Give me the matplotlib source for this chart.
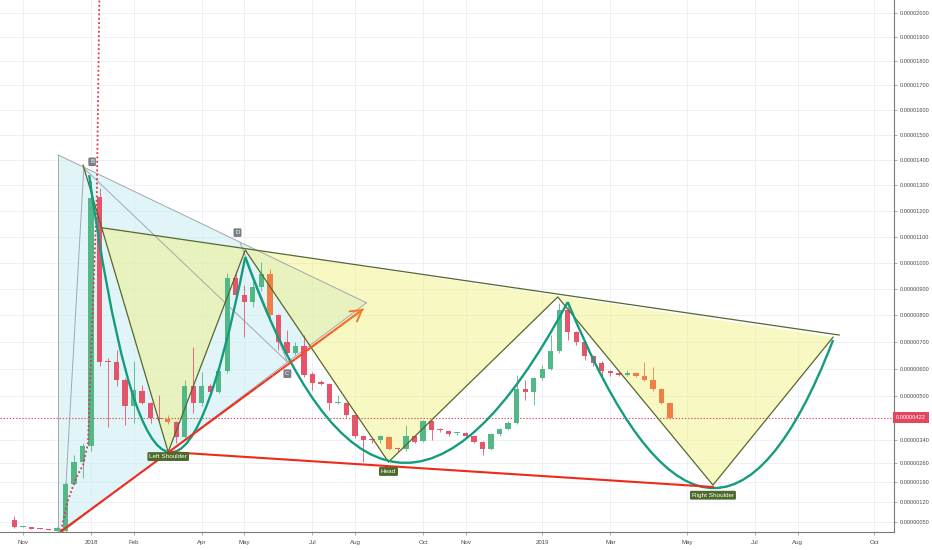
import numpy as np
import pandas as pd
import matplotlib
matplotlib.use('Agg')
import matplotlib.pyplot as plt
import matplotlib.dates as mdates
from matplotlib.path import Path
from matplotlib.patches import PathPatch
from matplotlib.collections import LineCollection
from matplotlib.colors import to_rgb
from matplotlib.ticker import NullLocator

plt.rcParams['font.family'] = ['Liberation Sans', 'DejaVu Sans']

# weekly candles, prices in satoshi (1 = 0.00000001)
first_week = '2017-10-30'
opens = [57, 33, 31, 27, 26, 18, 18, 184, 262, 319, 1254, 628, 626, 559, 464, 519, 475, 418, 416, 405,
         352, 538, 475, 538, 516, 592, 942, 877, 850, 907, 957, 801, 700, 659, 685, 581, 551, 544, 474, 475,
         431, 355, 345, 341, 352, 312, 309, 355, 337, 409, 380, 373, 365, 366, 355, 334, 309, 362, 380, 402,
         527, 516, 567, 600, 667, 820, 738, 700, 648, 622, 593, 585, 578, 585, 574, 559, 527, 475]
highs = [72, 36, 33, 28, 27, 31, 190, 287, 330, 1317, 1290, 640, 670, 565, 630, 541, 480, 505, 431, 410,
         560, 682, 589, 545, 600, 960, 960, 915, 925, 1002, 975, 805, 745, 700, 726, 590, 560, 548, 505, 480,
         435, 360, 350, 360, 356, 315, 395, 360, 415, 413, 385, 378, 370, 370, 358, 338, 365, 384, 410, 578,
         559, 570, 615, 726, 846, 830, 742, 705, 652, 628, 596, 588, 596, 590, 626, 607, 530, 478]
lows = [29, 32, 25, 24, 21, 17, 16, 180, 205, 300, 610, 388, 537, 395, 402, 470, 402, 410, 400, 330,
        345, 440, 465, 505, 510, 585, 860, 718, 830, 890, 790, 670, 650, 650, 570, 523, 540, 450, 470, 425,
        350, 262, 330, 330, 305, 300, 300, 330, 334, 341, 370, 355, 360, 350, 330, 287, 305, 355, 376, 398,
        486, 468, 560, 595, 660, 707, 690, 633, 610, 559, 575, 574, 575, 570, 555, 520, 470, 418]
closes = [31, 35, 26, 25, 22, 29, 184, 262, 319, 1250, 626, 624, 559, 464, 523, 475, 420, 416, 405, 352,
          537, 475, 538, 516, 592, 942, 877, 850, 907, 957, 801, 700, 659, 685, 578, 548, 544, 475, 477, 431,
          355, 341, 341, 355, 309, 308, 355, 334, 409, 377, 377, 362, 367, 355, 334, 309, 362, 380, 402, 527,
          516, 567, 600, 667, 820, 738, 700, 648, 622, 593, 585, 578, 585, 574, 559, 527, 475, 422]
orange_idx = [18, 30, 44, 73, 74, 75, 76, 77]
last_price = 422

y_ticks = [2000, 1900, 1800, 1700, 1600, 1500, 1400, 1300, 1200, 1100, 1000, 900, 800, 700, 600, 500,
           340, 260, 190, 120, 50]
x_tick_dates = ['2017-11-06', '2018-01-01', '2018-02-05', '2018-04-02', '2018-05-07', '2018-07-02',
                '2018-08-06', '2018-10-01', '2018-11-05', '2019-01-07', '2019-03-04', '2019-05-06',
                '2019-07-01', '2019-08-05', '2019-10-07']
x_tick_labels = ['Nov', '2018', 'Feb', 'Apr', 'May', 'Jul', 'Aug', 'Oct', 'Nov', '2019', 'Mar', 'May',
                 'Jul', 'Aug', 'Oct']

# triangle pattern drawing
tri_fill_dates = ['2017-12-05', '2018-08-15 12:00', '2017-12-05']
tri_fill_vals = [1420, 847, 5]
tri_zz_dates = ['2017-12-09', '2017-12-26', '2018-06-11 10:00', '2018-05-03 17:00']
tri_zz_vals = [5, 1368, 626, 1075]
tri_labels = ['', 'B', 'C', 'D']
tri_label_off = [(0, 0), (6, 4.5), (0, -8.5), (-2, 7.5)]

# head & shoulders drawing
hs_dates = ['2017-12-25 10:00', '2018-03-05 10:00', '2018-05-07 19:00', '2018-09-02 14:00',
            '2019-01-19 19:00', '2019-05-27 10:00', '2019-09-03 05:00']
hs_vals = [1380, 298, 1048, 262, 869, 180, 718]
neck_dates = ['2018-01-10 02:00', '2019-09-08 05:00']
neck_vals = [1134, 726]
hs_names = {1: 'Left Shoulder', 3: 'Head', 5: 'Right Shoulder'}
hs_name_off = {1: -1.5, 3: -5.0, 5: -5.5}

# curves: start, control, end
arc_dates = [['2017-12-30 10:00', '2018-02-27 14:00', '2018-05-07 19:00'],
             ['2018-05-07 19:00', '2018-08-30 07:00', '2019-01-28 00:00'],
             ['2019-01-28 00:00', '2019-05-26 14:00', '2019-09-03 05:00']]
arc_vals = [[1340, -505, 1021], [1021, -371, 850], [850, -402, 707]]

# red trend lines
up_dates = ['2017-12-06 12:00', '2018-08-13 00:00']
up_vals = [15, 824]
support_dates = ['2018-03-05 10:00', '2019-05-28 05:00']
support_vals = [298, 173]

# red dotted indicator
ind_dates = ['2017-12-06 12:00', '2017-12-13 01:00', '2017-12-19 15:00', '2017-12-25 10:00',
             '2017-12-29 12:00', '2018-01-01 19:00', '2018-01-05 17:00', '2018-01-07 19:00',
             '2018-01-08 02:00']
ind_vals = [5, 127, 205, 251, 330, 745, 1254, 2053, 2140]


def fwd(v):
    return np.log(np.asarray(v, dtype=float) + 10000.0)


def inv(u):
    return np.exp(np.asarray(u, dtype=float)) - 10000.0


def dn(lst):
    return mdates.date2num(pd.to_datetime(lst, format='mixed'))


GREEN = '#53b787'
RED = '#e5546b'
ORANGE = '#f07f45'
OLIVE = '#56682c'
TEAL = '#139c7d'
GRAY = '#a3a7ae'
TREND = '#ee2a1b'
ARROW = '#f7792f'

fig = plt.figure(figsize=(9.32, 5.5), dpi=100)
ax = fig.add_axes([0, 18 / 550, 894 / 932, 532 / 550])
ax.set_yscale('function', functions=(fwd, inv))

# candles
d = mdates.date2num(pd.date_range(first_week, periods=len(opens), freq='7D'))
o = np.array(opens, float)
c = np.array(closes, float)
cols = [GREEN if cc >= oo else RED for oo, cc in zip(o, c)]
for i in orange_idx:
    cols[i] = ORANGE
ax.vlines(d, lows, highs, colors=cols, lw=0.6, zorder=3)
ax.bar(d, np.maximum(np.abs(c - o), 3.5), bottom=np.minimum(o, c), width=4.4,
       color=cols, linewidth=0, zorder=3.1)

# triangle pattern
tx = dn(tri_fill_dates)
ax.fill(tx, tri_fill_vals, color='#c4edf5', alpha=0.5, lw=0, zorder=1)
ax.plot([tx[0], tx[1]], [tri_fill_vals[0], tri_fill_vals[1]], color=GRAY, lw=0.7, zorder=2.5)
ax.plot([tx[2], tx[1]], [tri_fill_vals[2], tri_fill_vals[1]], color=GRAY, lw=0.7, zorder=2.5)
ax.plot([tx[0], tx[2]], [tri_fill_vals[0], tri_fill_vals[2]], color=GRAY, lw=0.7, zorder=2.5)
zx = dn(tri_zz_dates)
ax.plot(zx, tri_zz_vals, color=GRAY, lw=0.7, zorder=2.5)
for k, lab in enumerate(tri_labels):
    if lab:
        ax.annotate(lab, (zx[k], tri_zz_vals[k]), xytext=tri_label_off[k], textcoords='offset points',
                    ha='center', va='center', fontsize=4.3, color='white', zorder=9,
                    bbox=dict(boxstyle='round,pad=0.3,rounding_size=0.2', fc='#7b7e84', ec='none'))

# head & shoulders
hx = dn(hs_dates)
nx = dn(neck_dates)
ax.fill(np.r_[nx[0], hx[1:]], np.r_[neck_vals[0], hs_vals[1:]], color='#f0f07a', alpha=0.45,
        lw=0, zorder=1.2)
ax.plot(hx, hs_vals, color=OLIVE, lw=0.9, zorder=4.5)
ax.plot(nx, neck_vals, color=OLIVE, lw=0.9, zorder=4.5)

# curves
for ds, vs in zip(arc_dates, arc_vals):
    pts = np.column_stack([dn(ds), vs])
    ax.add_patch(PathPatch(Path(pts, [Path.MOVETO, Path.CURVE3, Path.CURVE3]),
                           fill=False, ec=TEAL, lw=1.7, zorder=5))

# red support line
ax.plot(dn(support_dates), support_vals, color=TREND, lw=1.5, zorder=6, solid_capstyle='butt')

# rising arrow with red -> orange colour
t = np.linspace(0, 1, 41)
ux = dn(up_dates)
uu = fwd(up_vals)
xs = ux[0] + (ux[1] - ux[0]) * t
ys = inv(uu[0] + (uu[1] - uu[0]) * t)
segs = np.stack([np.column_stack([xs[:-1], ys[:-1]]), np.column_stack([xs[1:], ys[1:]])], axis=1)
tm = (t[:-1] + t[1:]) / 2
m = np.clip((tm - 0.65) / 0.35, 0, 1)[:, None]
seg_cols = np.array(to_rgb(TREND)) * (1 - m) + np.array(to_rgb(ARROW)) * m
ax.add_collection(LineCollection(segs, colors=seg_cols, linewidths=1.5, zorder=6, capstyle='butt'))
ax.annotate('', xy=(xs[-1], ys[-1]), xytext=(xs[-4], ys[-4]),
            arrowprops=dict(arrowstyle='->,head_length=0.6,head_width=0.35', color=ARROW, lw=1.4,
                            mutation_scale=13, shrinkA=0, shrinkB=0), zorder=6)

# H&S labels
for k, name in hs_names.items():
    ax.annotate(name, (hx[k], hs_vals[k]), xytext=(0, hs_name_off[k]), textcoords='offset points',
                ha='center', va='top', fontsize=4.6, color='white', zorder=9,
                bbox=dict(boxstyle='round,pad=0.3,rounding_size=0.2', fc='#4c6a2a', ec='none'))

# dotted indicator and last price line
ax.plot(dn(ind_dates), ind_vals, color='#e0334a', lw=1.3, ls=(0, (1, 1.4)), zorder=4)
ax.axhline(last_price, color='#e2475f', lw=0.8, ls=(0, (1.2, 1.6)), zorder=2.6)

ax.set_xlim(dn(['2017-10-18 02:30'])[0], dn(['2019-10-23 07:00'])[0])
ax.set_ylim(15, 2053)

ax.yaxis.tick_right()
ax.set_yticks(y_ticks)
ax.set_yticklabels([f'{v * 1e-8:.8f}' for v in y_ticks])
ax.yaxis.set_minor_locator(NullLocator())
ax.set_xticks(dn(x_tick_dates))
ax.set_xticklabels(x_tick_labels)
ax.tick_params(axis='y', length=2.5, width=0.5, color='#8a8a8a', pad=1.5, labelsize=4.1,
               labelcolor='#4a4a4a')
ax.tick_params(axis='x', length=2, width=0.5, color='#8a8a8a', pad=3.5, labelsize=4.4,
               labelcolor='#4a4a4a')
ax.grid(True, color='#eef0f5', lw=0.7)
ax.set_axisbelow(True)
for s in ['left', 'top']:
    ax.spines[s].set_visible(False)
for s in ['right', 'bottom']:
    ax.spines[s].set_color('#7a7a7a')
    ax.spines[s].set_linewidth(0.8)

ax.text(1.002, last_price, f'{last_price * 1e-8:.8f}', transform=ax.get_yaxis_transform(),
        ha='left', va='center', fontsize=4.1, color='white', clip_on=False, zorder=10,
        bbox=dict(boxstyle='square,pad=0.55', fc='#e2475f', ec='none'))

fig.savefig('out.png', dpi=100, facecolor='white')
